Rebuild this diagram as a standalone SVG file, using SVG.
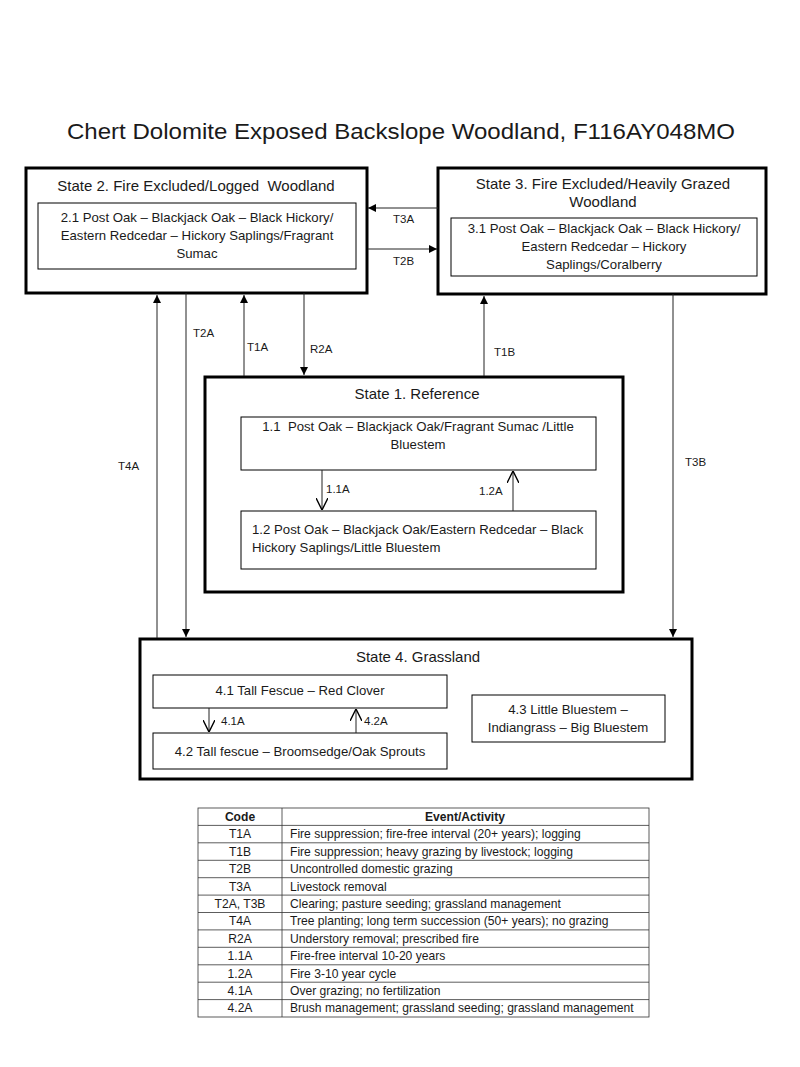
<svg xmlns="http://www.w3.org/2000/svg" width="800" height="1067" viewBox="0 0 800 1067">
<style>
text{font-family:"Liberation Sans",Arial,sans-serif;fill:#1a1a1a}
.st{fill:#fff;stroke:#000;stroke-width:3}
.in{fill:#fff;stroke:#000;stroke-width:1}
.h{font-size:15px;text-anchor:middle}
.t{font-size:13.2px;text-anchor:middle}
.ts{font-size:13.2px}
.l{font-size:11.5px}
.c{stroke:#222;stroke-width:1;fill:none}
.tb{font-size:12.1px}
.tc{text-anchor:middle}
.grid{stroke:#333;stroke-width:0.8;fill:none}
</style>
<defs>
<marker id="fa" viewBox="0 0 10 10" refX="10" refY="5" markerWidth="8" markerHeight="8" markerUnits="userSpaceOnUse" orient="auto"><path d="M0,0L10,5L0,10z" fill="#000"/></marker>
<marker id="oa" viewBox="0 0 10 10" refX="10" refY="5" markerWidth="12" markerHeight="12" markerUnits="userSpaceOnUse" orient="auto"><path d="M0,0L10,5L0,10" fill="none" stroke="#000" stroke-width="1.2"/></marker>
</defs>
<rect width="800" height="1067" fill="#fff"/>
<text x="401" y="139" font-size="22.5" text-anchor="middle" textLength="668" lengthAdjust="spacingAndGlyphs">Chert Dolomite Exposed Backslope Woodland, F116AY048MO</text>

<g id="state2">
<rect class="st" x="26" y="168" width="341" height="125"/>
<text class="h" x="196" y="191" xml:space="preserve">State 2. Fire Excluded/Logged  Woodland</text>
<rect class="in" x="38" y="203" width="318" height="66"/>
<text class="t" x="197" y="222">2.1 Post Oak – Blackjack Oak – Black Hickory/</text>
<text class="t" x="197" y="240">Eastern Redcedar – Hickory Saplings/Fragrant</text>
<text class="t" x="197" y="258">Sumac</text>
</g>

<g id="state3">
<rect class="st" x="438" y="168" width="328" height="126"/>
<text class="h" x="603" y="189">State 3. Fire Excluded/Heavily Grazed</text>
<text class="h" x="603" y="207">Woodland</text>
<rect class="in" x="451" y="218" width="306" height="58"/>
<text class="t" x="604" y="233">3.1 Post Oak – Blackjack Oak – Black Hickory/</text>
<text class="t" x="604" y="251">Eastern Redcedar – Hickory</text>
<text class="t" x="604" y="269">Saplings/Coralberry</text>
</g>

<g id="state1">
<rect class="st" x="205" y="377" width="418" height="215"/>
<text class="h" x="417" y="399">State 1. Reference</text>
<rect class="in" x="241" y="417" width="355" height="53"/>
<text class="t" x="418" y="431" xml:space="preserve">1.1  Post Oak – Blackjack Oak/Fragrant Sumac /Little</text>
<text class="t" x="418" y="449">Bluestem</text>
<rect class="in" x="241" y="511" width="355" height="58"/>
<text class="ts" x="252" y="534">1.2 Post Oak – Blackjack Oak/Eastern Redcedar – Black</text>
<text class="ts" x="252" y="552">Hickory Saplings/Little Bluestem</text>
</g>

<g id="state4">
<rect class="st" x="140" y="639" width="552" height="140"/>
<text class="h" x="418" y="662">State 4. Grassland</text>
<rect class="in" x="153" y="675" width="294" height="33"/>
<text class="t" x="300" y="695">4.1 Tall Fescue – Red Clover</text>
<rect class="in" x="153" y="733" width="294" height="36"/>
<text class="t" x="300" y="756">4.2 Tall fescue – Broomsedge/Oak Sprouts</text>
<rect class="in" x="472" y="695" width="193" height="47"/>
<text class="t" x="568" y="714">4.3 Little Bluestem –</text>
<text class="t" x="568" y="732">Indiangrass – Big Bluestem</text>
</g>

<g id="connectors">
<line class="c" x1="438" y1="208" x2="368" y2="208" marker-end="url(#fa)"/>
<line class="c" x1="368" y1="249" x2="437" y2="249" marker-end="url(#fa)"/>
<line class="c" x1="157" y1="638" x2="157" y2="295" marker-end="url(#fa)"/>
<line class="c" x1="186" y1="293" x2="186" y2="637" marker-end="url(#fa)"/>
<line class="c" x1="244" y1="376" x2="244" y2="295" marker-end="url(#fa)"/>
<line class="c" x1="304" y1="293" x2="304" y2="375" marker-end="url(#fa)"/>
<line class="c" x1="484" y1="376" x2="484" y2="296" marker-end="url(#fa)"/>
<line class="c" x1="673" y1="294" x2="673" y2="637" marker-end="url(#fa)"/>
<line class="c" x1="322" y1="470" x2="322" y2="510" marker-end="url(#oa)"/>
<line class="c" x1="513" y1="511" x2="513" y2="471" marker-end="url(#oa)"/>
<line class="c" x1="209" y1="708" x2="209" y2="732" marker-end="url(#oa)"/>
<line class="c" x1="356" y1="733" x2="356" y2="709" marker-end="url(#oa)"/>
<text class="l" x="393" y="223">T3A</text>
<text class="l" x="393" y="265">T2B</text>
<text class="l" x="193" y="337">T2A</text>
<text class="l" x="247" y="351">T1A</text>
<text class="l" x="310" y="353">R2A</text>
<text class="l" x="118" y="470">T4A</text>
<text class="l" x="494" y="356">T1B</text>
<text class="l" x="685" y="466">T3B</text>
<text class="l" x="326" y="493">1.1A</text>
<text class="l" x="479" y="495">1.2A</text>
<text class="l" x="221" y="725">4.1A</text>
<text class="l" x="364" y="725">4.2A</text>
</g>

<g id="table">
<rect class="grid" x="198" y="808" width="451" height="209" stroke-width="1"/>
<line class="grid" x1="282" y1="808" x2="282" y2="1017"/>
<line class="grid" x1="198" y1="825.4" x2="649" y2="825.4"/>
<line class="grid" x1="198" y1="842.8" x2="649" y2="842.8"/>
<line class="grid" x1="198" y1="860.3" x2="649" y2="860.3"/>
<line class="grid" x1="198" y1="877.7" x2="649" y2="877.7"/>
<line class="grid" x1="198" y1="895.1" x2="649" y2="895.1"/>
<line class="grid" x1="198" y1="912.5" x2="649" y2="912.5"/>
<line class="grid" x1="198" y1="929.9" x2="649" y2="929.9"/>
<line class="grid" x1="198" y1="947.3" x2="649" y2="947.3"/>
<line class="grid" x1="198" y1="964.8" x2="649" y2="964.8"/>
<line class="grid" x1="198" y1="982.2" x2="649" y2="982.2"/>
<line class="grid" x1="198" y1="999.6" x2="649" y2="999.6"/>
<text class="tb tc" x="240" y="821" font-weight="bold">Code</text>
<text class="tb tc" x="465" y="821" font-weight="bold">Event/Activity</text>
<text class="tb tc" x="240" y="838">T1A</text>
<text class="tb" x="290" y="838">Fire suppression; fire-free interval (20+ years); logging</text>
<text class="tb tc" x="240" y="856">T1B</text>
<text class="tb" x="290" y="856">Fire suppression; heavy grazing by livestock; logging</text>
<text class="tb tc" x="240" y="873">T2B</text>
<text class="tb" x="290" y="873">Uncontrolled domestic grazing</text>
<text class="tb tc" x="240" y="891">T3A</text>
<text class="tb" x="290" y="891">Livestock removal</text>
<text class="tb tc" x="240" y="908">T2A, T3B</text>
<text class="tb" x="290" y="908">Clearing; pasture seeding; grassland management</text>
<text class="tb tc" x="240" y="925">T4A</text>
<text class="tb" x="290" y="925">Tree planting; long term succession (50+ years); no grazing</text>
<text class="tb tc" x="240" y="943">R2A</text>
<text class="tb" x="290" y="943">Understory removal; prescribed fire</text>
<text class="tb tc" x="240" y="960">1.1A</text>
<text class="tb" x="290" y="960">Fire-free interval 10-20 years</text>
<text class="tb tc" x="240" y="978">1.2A</text>
<text class="tb" x="290" y="978">Fire 3-10 year cycle</text>
<text class="tb tc" x="240" y="995">4.1A</text>
<text class="tb" x="290" y="995">Over grazing; no fertilization</text>
<text class="tb tc" x="240" y="1012">4.2A</text>
<text class="tb" x="290" y="1012">Brush management; grassland seeding; grassland management</text>
</g>
</svg>
